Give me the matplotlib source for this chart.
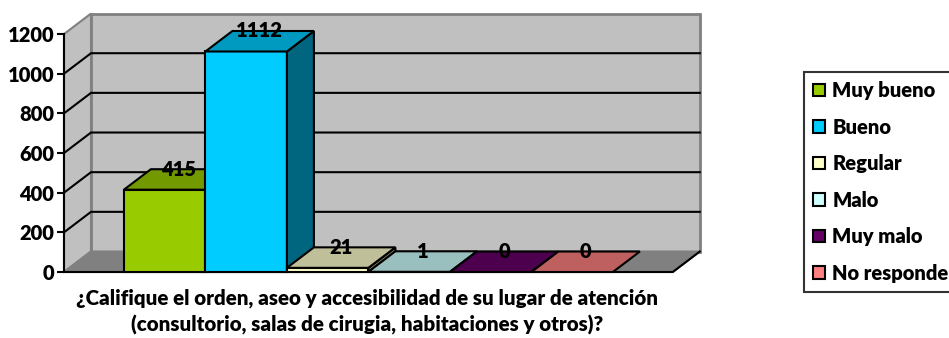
import matplotlib
matplotlib.use("Agg")
import matplotlib.pyplot as plt
from matplotlib.patches import Polygon, Patch
import numpy as np

# data
categories = ["Muy bueno", "Bueno", "Regular", "Malo", "Muy malo", "No responde"]
values = [415, 1112, 21, 1, 0, 0]
colors = ["#99CC00", "#00CCFF", "#FFFFCC", "#CCFFFF", "#660066", "#FF8080"]
yticks = [0, 200, 400, 600, 800, 1000, 1200]
title_lines = ["¿Califique el orden, aseo y accesibilidad de su lugar de atención",
               "(consultorio, salas de cirugia, habitaciones y otros)?"]

plt.rcParams['font.family'] = ['Lato', 'DejaVu Sans']
WEIGHT = 800
FS = 14.5

W, H = 949, 338
fig = plt.figure(figsize=(W / 100, H / 100), dpi=100)

# layout (pixels)
px_x = 81.5        # px per bar
px_v = 0.1983      # px per value unit
left_px, right_px, base_px, top_px = 64, 702, 272, 8
ax = fig.add_axes([left_px / W, (H - base_px) / H,
                   (right_px - left_px) / W, (base_px - top_px) / H])
x0 = -0.735
x1 = len(categories) - x0
ax.set_xlim(x0, x0 + (right_px - left_px) / px_x)
ax.set_ylim(0, (base_px - top_px) / px_v)

DX = 27 / px_x     # depth offset in data units
DY = 20.5 / px_v
vmax = yticks[-1]


def shade(c, f):
    rgb = np.array(matplotlib.colors.to_rgb(c))
    return tuple(rgb * f)


def poly(pts, fc, ec="black", lw=1.5, z=1):
    ax.add_patch(Polygon(pts, closed=True, facecolor=fc, edgecolor=ec,
                         linewidth=lw, zorder=z, clip_on=False,
                         joinstyle="miter"))


# walls and floor
poly([(x0, 0), (x0 + DX, DY), (x0 + DX, vmax + DY), (x0, vmax)], "#C0C0C0", "#808080", 1.5, 1)
poly([(x0 + DX, DY), (x1 + DX, DY), (x1 + DX, vmax + DY), (x0 + DX, vmax + DY)], "#C0C0C0", "#808080", 2, 1)
poly([(x0, 0), (x1, 0), (x1 + DX, DY), (x0 + DX, DY)], "#808080", "#808080", 1.5, 1)
ax.plot([x0, x1, x1 + DX], [0, 0, DY], color="black", lw=1.5, zorder=2, clip_on=False)

for v in yticks[1:-1]:
    ax.plot([x0, x0 + DX, x1 + DX], [v, v + DY, v + DY], color="black", lw=1.5,
            zorder=2, clip_on=False)

# bars
for k, (v, c) in enumerate(zip(values, colors)):
    z = 3 + k
    front = [(k, 0), (k + 1, 0), (k + 1, v), (k, v)]
    top = [(k, v), (k + 1, v), (k + 1 + DX, v + DY), (k + DX, v + DY)]
    side = [(k + 1, 0), (k + 1 + DX, DY), (k + 1 + DX, v + DY), (k + 1, v)]
    if v > 0:
        poly(front, c, z=z)
        poly(side, shade(c, 0.5), z=z)
    poly(top, shade(c, 0.75), z=z)
    ax.text(k + 0.5 + DX / 2, v + DY, str(v), ha="center", va="center",
            fontsize=FS, fontweight=WEIGHT, zorder=20)

# axes
for s in ["top", "right", "bottom"]:
    ax.spines[s].set_visible(False)
ax.spines["left"].set_bounds(0, vmax)
ax.spines["left"].set_linewidth(1.5)
ax.spines["left"].set_zorder(10)
ax.set_yticks(yticks)
ax.set_yticklabels([str(t) for t in yticks], fontsize=FS, fontweight=WEIGHT)
ax.tick_params(axis="y", direction="out", length=5, width=1.5, pad=2)
ax.set_xticks([])
ax.patch.set_visible(False)

# title under the chart
fig.text(367 / W, 1 - 312 / H, "\n".join(title_lines), ha="center", va="center",
         fontsize=14.8, fontweight=WEIGHT, linespacing=1.42)

# legend
handles = [Patch(facecolor=c, edgecolor="black", linewidth=1.5) for c in colors]
leg = fig.legend(handles, categories, loc="upper left",
                 bbox_to_anchor=(804 / W, 1 - 72 / H), fontsize=FS,
                 frameon=True, fancybox=False, edgecolor="black",
                 handlelength=0.6, handleheight=0.6, handletextpad=0.35,
                 labelspacing=0.87, borderpad=0.45, borderaxespad=0)
leg.get_frame().set_linewidth(1.5)
for t in leg.get_texts():
    t.set_fontweight(WEIGHT)

fig.savefig("out.png", dpi=100)
